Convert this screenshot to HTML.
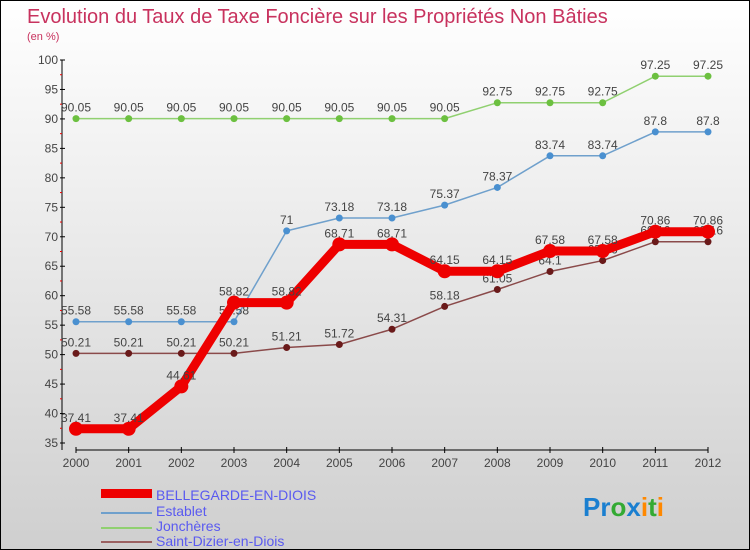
<!DOCTYPE html>
<html><head><meta charset="utf-8"><style>
body{margin:0;}
#c{width:748px;height:548px;border:1px solid #000;background:linear-gradient(#ffffff,#cfcfcf);position:relative;font-family:"Liberation Sans",sans-serif;overflow:hidden}
</style></head><body>
<div id="c">
<svg id="s" width="748" height="548" xmlns="http://www.w3.org/2000/svg">
<text x="26" y="22" font-size="20" fill="#c8325e">Evolution du Taux de Taxe Foncière sur les Propriétés Non Bâties</text>
<text x="26" y="39" font-size="11" fill="#c8325e">(en %)</text>
<g id="axes"></g><g id="series"></g>
<g>
<rect x="100" y="488" width="51" height="9" fill="#e00"/>
<text x="155" y="499" font-size="14" fill="#5a5af0">BELLEGARDE-EN-DIOIS</text>
<line x1="100" y1="512" x2="151" y2="512" stroke="#6fa0cc" stroke-width="2"/>
<text x="155" y="515" font-size="14" fill="#5a5af0">Establet</text>
<line x1="100" y1="527" x2="151" y2="527" stroke="#90d070" stroke-width="2"/>
<text x="155" y="530" font-size="14" fill="#5a5af0">Jonchères</text>
<line x1="100" y1="541" x2="151" y2="541" stroke="#9a6060" stroke-width="2"/>
<text x="155" y="545" font-size="14" fill="#5a5af0">Saint-Dizier-en-Diois</text>
</g>
<text x="582" y="515" font-size="26" font-weight="bold"><tspan fill="#1a7fd0">Pr</tspan><tspan fill="#3a3">o</tspan><tspan fill="#1a7fd0">x</tspan><tspan fill="#f80">i</tspan><tspan fill="#3a3">t</tspan><tspan fill="#f80">i</tspan></text>
</svg></div>
<script>
const years=[2000,2001,2002,2003,2004,2005,2006,2007,2008,2009,2010,2011,2012];
const yTicks=[35,40,45,50,55,60,65,70,75,80,85,90,95,100];
const bellegarde=[37.41,37.41,44.61,58.82,58.82,68.71,68.71,64.15,64.15,67.58,67.58,70.86,70.86];
const establet=[55.58,55.58,55.58,55.58,71,73.18,73.18,75.37,78.37,83.74,83.74,87.8,87.8];
const joncheres=[90.05,90.05,90.05,90.05,90.05,90.05,90.05,90.05,92.75,92.75,92.75,97.25,97.25];
const saintDizier=[50.21,50.21,50.21,50.21,51.21,51.72,54.31,58.18,61.05,64.1,65.96,69.16,69.16];
const NS="http://www.w3.org/2000/svg";
function X(i){return 75+i*(707-75)/(years.length-1);}
function Y(v){return 442-(v-35)*(383/65);}
function mk(t,a,p){const e=document.createElementNS(NS,t);for(const k in a)e.setAttribute(k,a[k]);p.appendChild(e);return e;}
const ax=document.getElementById('axes'),sr=document.getElementById('series');
let l=mk('line',{x1:61,y1:Y(100),x2:61,y2:449,stroke:'#000'},ax);


l=mk('line',{x1:75,y1:449,x2:707,y2:449,stroke:'#000'},ax);


yTicks.forEach(v=>{mk('line',{x1:59,x2:64,y1:Y(v),y2:Y(v),stroke:'#000'},ax);
if(v<100)mk('line',{x1:59,x2:61,y1:Y(v+2.5),y2:Y(v+2.5),stroke:'#e00'},ax);
const t=mk('text',{x:57,y:Y(v)+4,'font-size':12,fill:'#444','text-anchor':'end'},ax);t.textContent=v;

});
years.forEach((y,i)=>{mk('line',{x1:X(i),x2:X(i),y1:446,y2:452,stroke:'#000'},ax);
const t=mk('text',{x:X(i),y:466,'font-size':12,fill:'#444','text-anchor':'middle'},ax);t.textContent=y;

});
function draw(d,col,w,r,name,dark){const g=mk('g',{},sr);


mk('polyline',{points:d.map((v,i)=>X(i)+','+Y(v)).join(' '),fill:'none',stroke:col,'stroke-width':w,'stroke-linejoin':'round'},g);
d.forEach((v,i)=>{const c=mk('circle',{cx:X(i),cy:Y(v),r:r,fill:dark||col},g);


const t=mk('text',{x:X(i),y:Y(v)-7,'font-size':12,fill:'#444','text-anchor':'middle'},g);t.textContent=v;});}
draw(joncheres,'#90d070',1.5,3.5,'joncheres','#6cc040');
draw(establet,'#6fa0cc',1.5,3.5,'establet','#4a90d0');
draw(saintDizier,'#8a4a4a',1.5,3.5,'saint-dizier','#6a1a1a');
draw(bellegarde,'#ee0000',9,7,'bellegarde');
</script></body></html>
